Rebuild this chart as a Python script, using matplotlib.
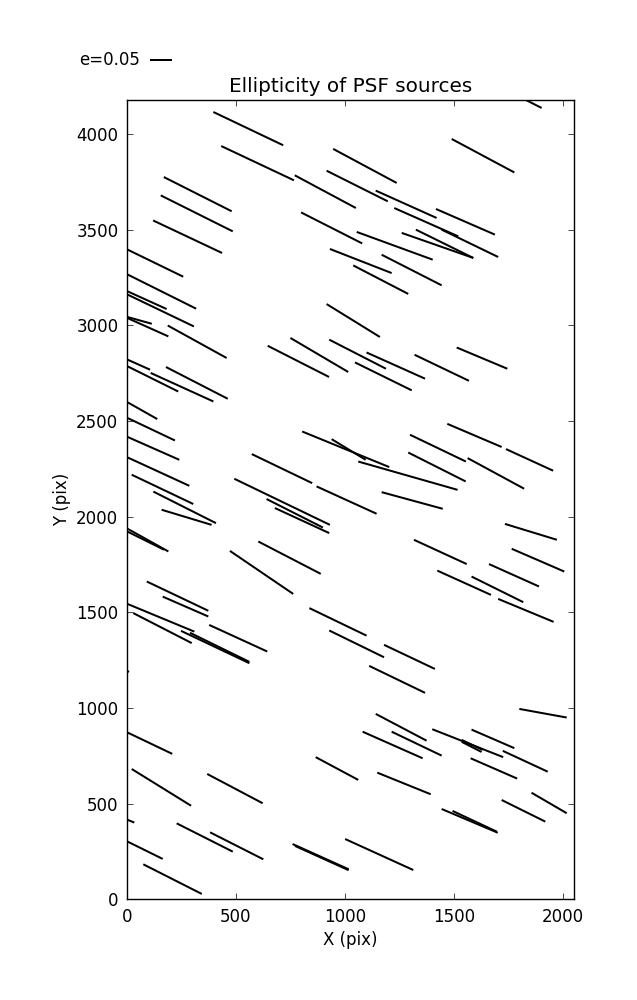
import numpy as np
import matplotlib
matplotlib.use("Agg")
import matplotlib.pyplot as plt

# Whisker end points (detector pixel coordinates)
x0 = [397, 433, 770, 946, 916, 799, 931, 170, 156, 121, 5, 5, 1825, 1489, 1141, 1226, 1417, 1443, 1325, 1260,
      1054, 1168, 1038, 5, 5, 5, 5, 188, 5, 5, 110, 180, 5, 5, 5, 5, 23, 122, 916, 646,
      750, 928, 804, 939, 573, 870, 493, 641, 679, 1061, 1168, 1099, 1046, 1319, 1512, 1469, 1298, 1290, 1562, 1738,
      160, 5, 5, 473, 603, 92, 165, 5, 30, 249, 290, 378, 837, 928, 0, 1733, 1764, 1316, 1660, 1423,
      1580, 1702, 1179, 1111, 5, 23, 369, 866, 5, 229, 382, 5, 76, 760, 771, 1001, 1799, 1141, 1081, 1214,
      1400, 1535, 1535, 1580, 1723, 1576, 1148, 1443, 1493, 1718, 1855]
y0 = [4115, 3937, 3784, 3922, 3808, 3590, 3399, 3775, 3679, 3548, 3395, 3265, 4180, 3974, 3704, 3613, 3608, 3500, 3500, 3483,
      3488, 3369, 3313, 3177, 3160, 3043, 3037, 2999, 2820, 2785, 2751, 2782, 2597, 2515, 2416, 2309, 2219, 2131, 3111, 2893,
      2934, 2925, 2445, 2405, 2327, 2158, 2198, 2092, 2045, 2288, 2128, 2858, 2806, 2846, 2884, 2485, 2428, 2335, 2306, 2353,
      2036, 1936, 1921, 1821, 1870, 1661, 1582, 1543, 1496, 1403, 1393, 1434, 1522, 1405, 1194, 1962, 1832, 1879, 1752, 1718,
      1687, 1570, 1330, 1220, 871, 681, 655, 743, 415, 397, 350, 301, 183, 289, 279, 315, 995, 969, 876, 876,
      889, 833, 823, 887, 776, 737, 662, 472, 462, 519, 557]
x1 = [717, 766, 1050, 1237, 1196, 1079, 1214, 481, 486, 437, 259, 318, 1901, 1776, 1420, 1519, 1687, 1702, 1588, 1588,
      1402, 1443, 1290, 183, 308, 115, 191, 458, 107, 236, 397, 463, 140, 221, 241, 287, 305, 409, 1160, 927,
      1015, 1188, 1203, 1095, 850, 1145, 931, 899, 928, 1516, 1448, 1367, 1306, 1568, 1744, 1718, 1554, 1553, 1821, 1954,
      389, 191, 171, 763, 889, 374, 374, 310, 298, 562, 562, 644, 1099, 1179, 11, 1971, 2005, 1558, 1889, 1669,
      1817, 1956, 1412, 1367, 209, 295, 623, 1061, 35, 486, 626, 165, 344, 1017, 1017, 1313, 2016, 1374, 1356, 1443,
      1725, 1631, 1626, 1776, 1929, 1789, 1393, 1700, 1695, 1918, 2016]
y1 = [3941, 3758, 3613, 3744, 3648, 3428, 3273, 3596, 3491, 3378, 3254, 3087, 4136, 3799, 3561, 3465, 3474, 3357, 3352, 3352,
      3343, 3209, 3164, 3085, 2994, 3008, 2942, 2829, 2768, 2654, 2602, 2616, 2510, 2398, 2297, 2161, 2066, 1966, 2939, 2730,
      2756, 2773, 2259, 2297, 2175, 2015, 1957, 1943, 1914, 2140, 2041, 2721, 2660, 2710, 2773, 2364, 2288, 2184, 2146, 2240,
      1957, 1818, 1827, 1596, 1701, 1508, 1478, 1399, 1339, 1234, 1241, 1295, 1378, 1265, 1189, 1879, 1713, 1752, 1635, 1591,
      1553, 1450, 1204, 1079, 760, 489, 502, 624, 401, 249, 209, 211, 28, 157, 152, 153, 950, 829, 737, 751,
      743, 781, 770, 790, 667, 631, 549, 348, 354, 406, 450]

KEY_E = 0.05          # ellipticity of the key whisker
E_SCALE = 2000.0      # pixels of whisker per unit ellipticity
xticks = [0, 500, 1000, 1500, 2000]
yticks = [0, 500, 1000, 1500, 2000, 2500, 3000, 3500, 4000]

x0a, y0a, x1a, y1a = map(np.asarray, (x0, y0, x1, y1))
xc = (x0a + x1a) / 2.0
yc = (y0a + y1a) / 2.0
eu = (x1a - x0a) / E_SCALE
ev = (y1a - y0a) / E_SCALE

plt.rcParams.update({
    "font.family": "DejaVu Sans",
    "font.size": 12,
    "xtick.direction": "in",
    "ytick.direction": "in",
    "xtick.top": True,
    "ytick.right": True,
    "xtick.major.size": 4,
    "ytick.major.size": 4,
    "xtick.major.width": 0.5,
    "ytick.major.width": 0.5,
    "xtick.major.pad": 6,
    "ytick.major.pad": 6,
    "axes.linewidth": 1.0,
})

fig = plt.figure(figsize=(6.37, 10), dpi=100)
ax = fig.add_axes([0.1989, 0.1007, 0.7017, 0.799])

Q = ax.quiver(xc, yc, eu, ev, angles="xy", scale_units="xy", scale=1.0 / E_SCALE,
              pivot="middle", headwidth=0, headlength=0, headaxislength=0,
              units="dots", width=2.0, color="black")

ax.quiverkey(Q, 0.2355, 0.9400, KEY_E, "e=0.05", labelpos="W",
             coordinates="figure", fontproperties={"size": 12})

ax.set_xlim(0, 2048)
ax.set_ylim(0, 4176)
ax.set_xticks(xticks)
ax.set_yticks(yticks)
ax.set_xlabel("X (pix)")
ax.set_ylabel("Y (pix)")
ax.set_title("Ellipticity of PSF sources", fontsize=14.4)

fig.savefig("out.png", dpi=100, facecolor="white")
